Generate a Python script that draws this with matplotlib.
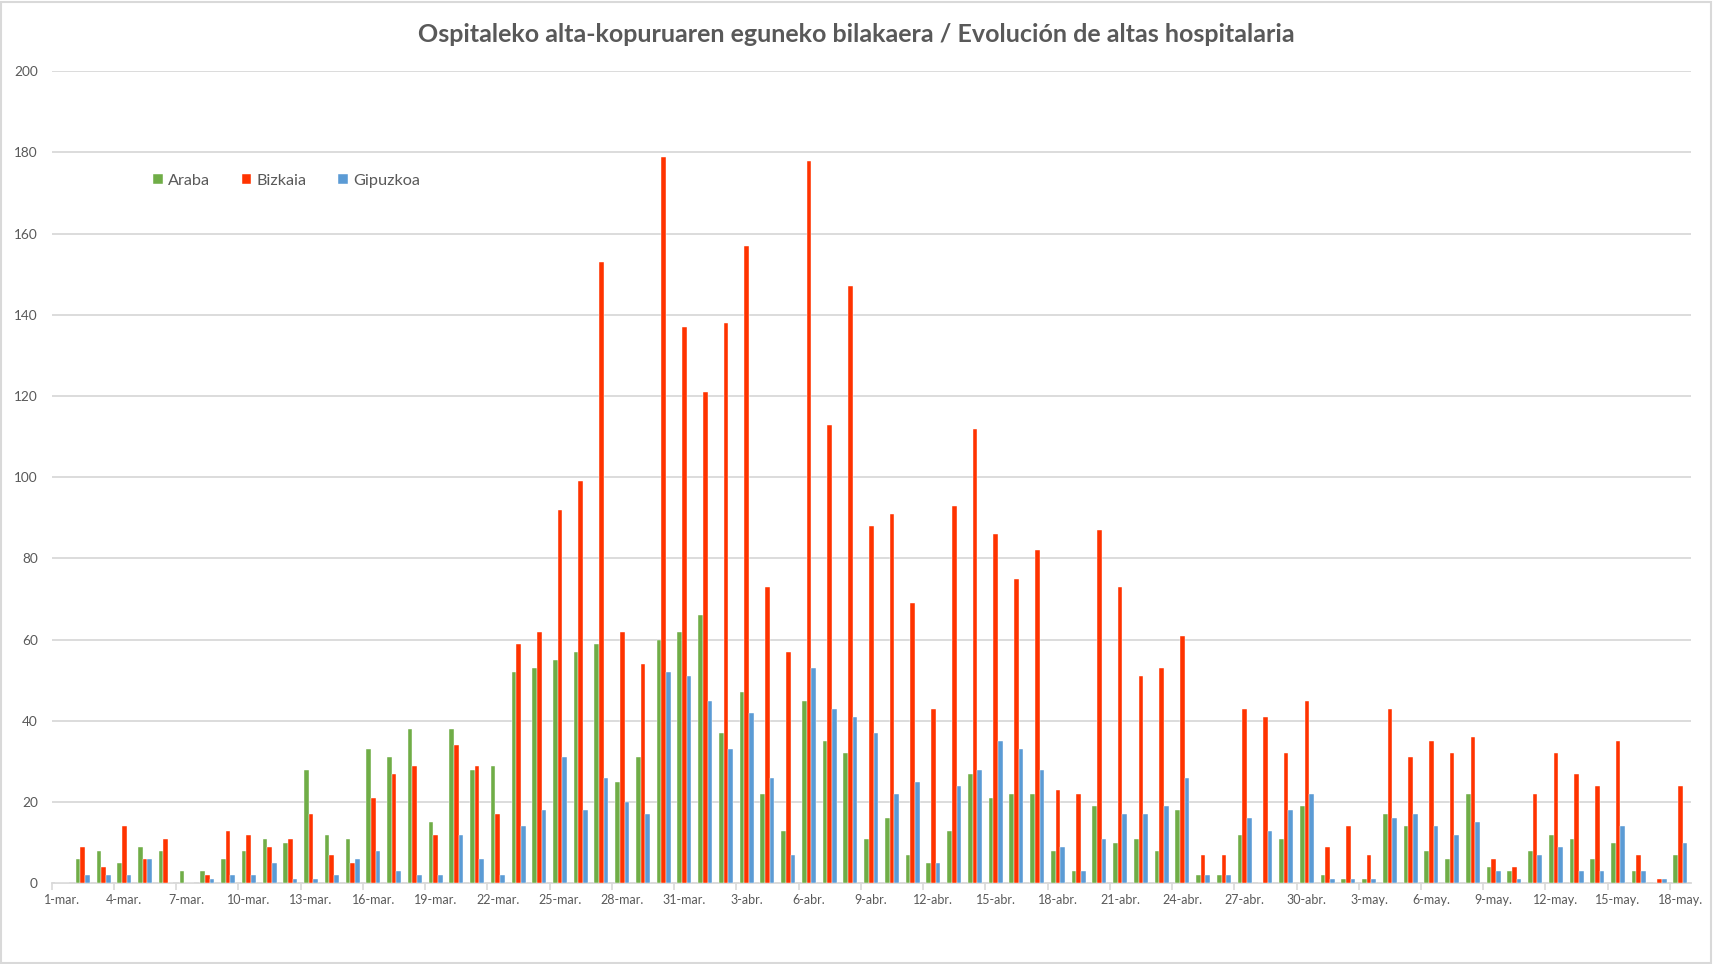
import matplotlib
matplotlib.use("Agg")
import matplotlib.pyplot as plt
import numpy as np
from matplotlib.patches import Rectangle

plt.rcParams['font.family'] = ['Lato', 'DejaVu Sans']

months = [("mar.", 31), ("abr.", 30), ("may.", 18)]
dates = [f"{d}-{m}" for m, n in months for d in range(1, n + 1)]

araba = [0, 6, 8, 5, 9, 8, 3, 3, 6, 8, 11, 10, 28, 12, 11, 33, 31, 38, 15, 38,
         28, 29, 52, 53, 55, 57, 59, 25, 31, 60, 62, 66, 37, 47, 22, 13, 45, 35, 32, 11,
         16, 7, 5, 13, 27, 21, 22, 22, 8, 3, 19, 10, 11, 8, 18, 2, 2, 12, 0, 11,
         19, 2, 1, 1, 17, 14, 8, 6, 22, 4, 3, 8, 12, 11, 6, 10, 3, 0, 7]
bizkaia = [0, 9, 4, 14, 6, 11, 0, 2, 13, 12, 9, 11, 17, 7, 5, 21, 27, 29, 12, 34,
           29, 17, 59, 62, 92, 99, 153, 62, 54, 179, 137, 121, 138, 157, 73, 57, 178, 113, 147, 88,
           91, 69, 43, 93, 112, 86, 75, 82, 23, 22, 87, 73, 51, 53, 61, 7, 7, 43, 41, 32,
           45, 9, 14, 7, 43, 31, 35, 32, 36, 6, 4, 22, 32, 27, 24, 35, 7, 1, 24]
gipuzkoa = [0, 2, 2, 2, 6, 0, 0, 1, 2, 2, 5, 1, 1, 2, 6, 8, 3, 2, 2, 12,
            6, 2, 14, 18, 31, 18, 26, 20, 17, 52, 51, 45, 33, 42, 26, 7, 53, 43, 41, 37,
            22, 25, 5, 24, 28, 35, 33, 28, 9, 3, 11, 17, 17, 19, 26, 2, 2, 16, 13, 18,
            22, 1, 1, 1, 16, 17, 14, 12, 15, 3, 1, 7, 9, 3, 3, 14, 3, 1, 10]

series = [("Araba", araba, "#70AD47"), ("Bizkaia", bizkaia, "#FF3300"), ("Gipuzkoa", gipuzkoa, "#5B9BD5")]
title = "Ospitaleko alta-kopuruaren eguneko bilakaera / Evolución de altas hospitalaria"
yticks = list(range(0, 201, 20))

W, H = 1713, 964
fig = plt.figure(figsize=(W / 100, H / 100), dpi=100)
fig.patch.set_facecolor("white")
ax = fig.add_axes([51.7 / W, 1 - 883.3 / H, (1690.7 - 51.7) / W, (883.3 - 71.3) / H])

x = np.arange(len(dates))
bw = 0.225
for i, (name, vals, col) in enumerate(series):
    ax.bar(x + (i - 1) * bw, vals, width=bw, color=col, label=name,
           edgecolor="white", linewidth=0.3, zorder=3)

ax.set_xlim(-0.5, len(dates) - 0.5)
ax.set_ylim(0, 200)
ax.set_yticks(yticks)
ax.set_yticklabels([str(v) for v in yticks])
ax.yaxis.grid(True, color="#D9D9D9", linewidth=1.3, zorder=0)
ax.set_axisbelow(True)

lab_idx = list(range(0, len(dates), 3))
ax.set_xticks(lab_idx)
ax.set_xticklabels([dates[i] for i in lab_idx])
ax.set_xticks([i - 0.5 for i in lab_idx], minor=True)
ax.tick_params(axis="x", which="major", length=0, pad=8, labelsize=9, labelcolor="#595959")
ax.tick_params(axis="x", which="minor", length=5, color="#D9D9D9", width=1.2)
ax.tick_params(axis="y", length=0, pad=10, labelsize=9.8, labelcolor="#595959")

for s in ["top", "right", "left"]:
    ax.spines[s].set_visible(False)
ax.spines["bottom"].set_color("#D9D9D9")
ax.spines["bottom"].set_linewidth(1.3)

fig.text(856 / W, 1 - 34 / H, title, ha="center", va="center",
         fontsize=18, fontweight="bold", color="#595959")

leg = ax.legend(loc="center left", bbox_to_anchor=(0.0528, 0.865), ncol=3, frameon=False,
                handlelength=0.6, handleheight=0.6, handletextpad=0.3, columnspacing=1.97,
                fontsize=11.7)
for t in leg.get_texts():
    t.set_color("#595959")

fig.add_artist(Rectangle((0.0006, 0.001), 0.9985, 0.997, transform=fig.transFigure,
                         fill=False, edgecolor="#D9D9D9", linewidth=1.5))

fig.savefig("out.png", dpi=100, facecolor="white")
